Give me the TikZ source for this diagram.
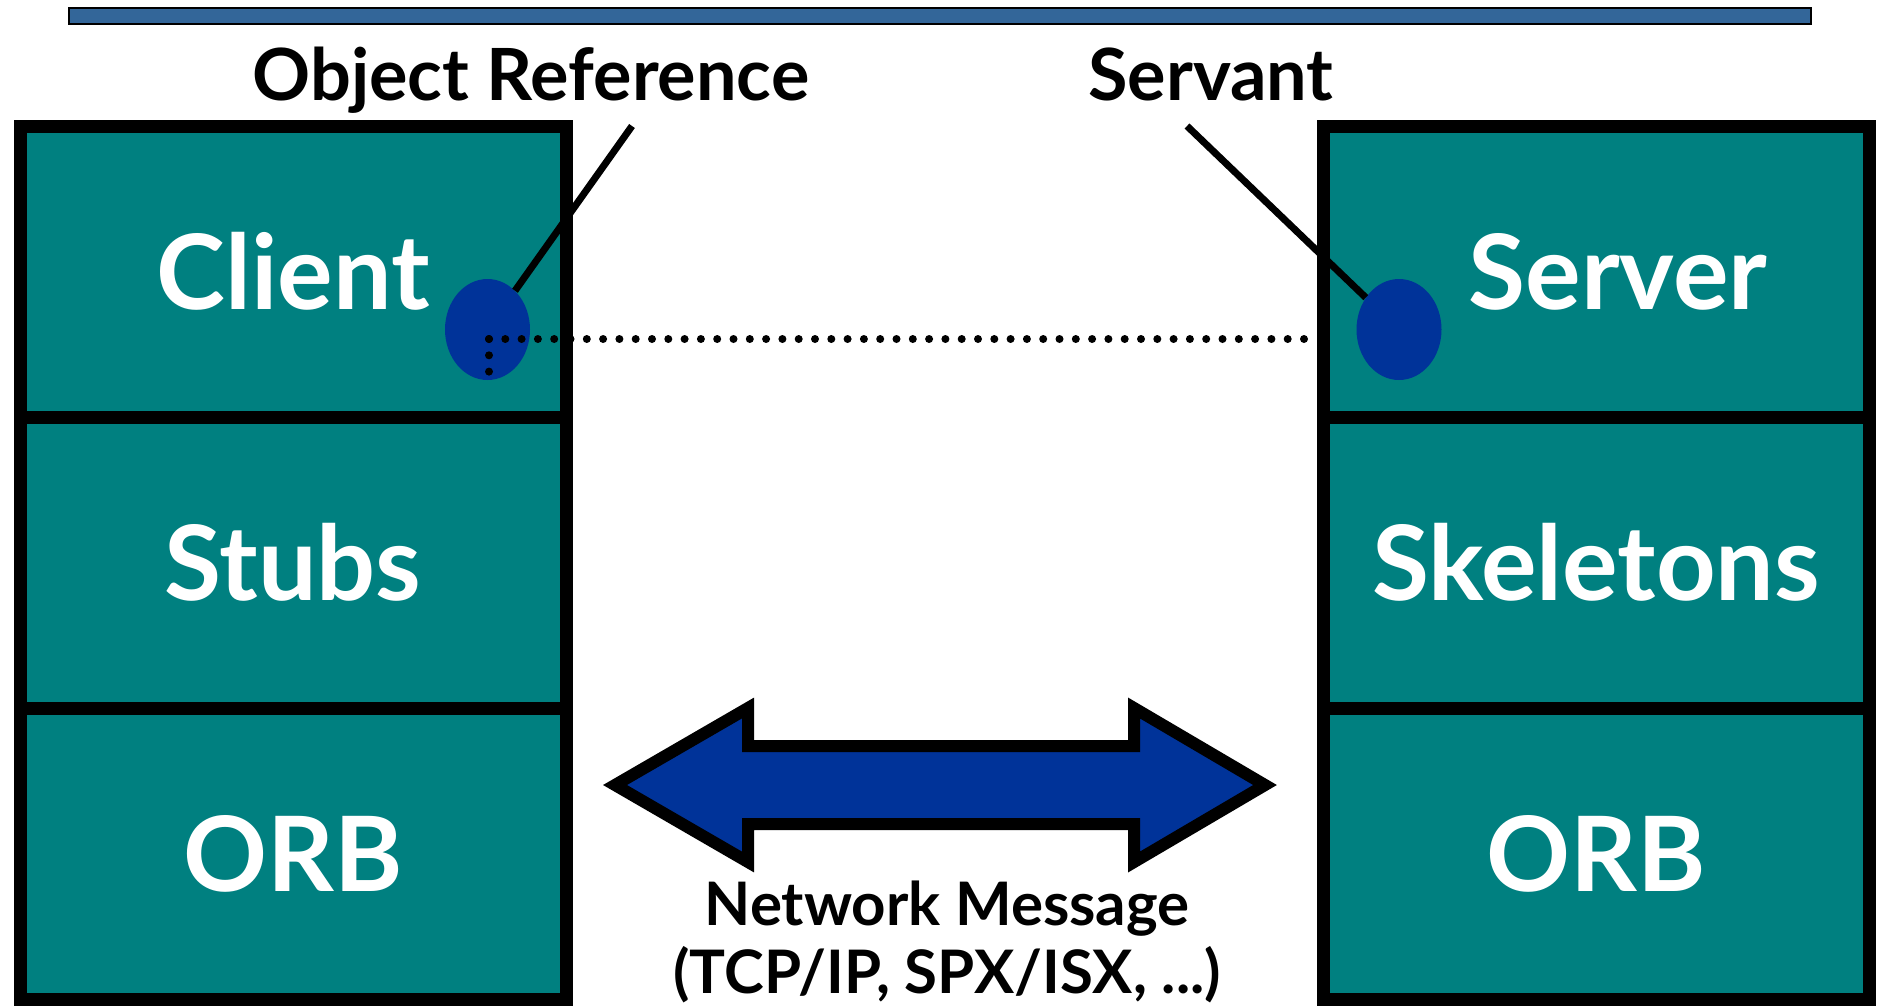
\documentclass[tikz,border=0pt]{standalone}
\usepackage{fontspec}
\setmainfont{Lato}
\usepackage{tikz}
\usetikzlibrary{shapes.geometric}
\usepackage{xcolor}
\definecolor{layerteal}{HTML}{008080}
\definecolor{refblue}{HTML}{003399}
\definecolor{barblue}{HTML}{336699}

\tikzset{
  layer/.style={draw, line width=13pt, fill=layerteal, minimum width=546pt, minimum height=291pt, inner sep=0pt, text=white, font=\bfseries\fontsize{104}{110}\selectfont},
  layertext/.style={text=white, font=\bfseries\fontsize{104}{110}\selectfont},
  refdot/.style={ellipse, fill=refblue, minimum width=85pt, minimum height=101pt, inner sep=0pt},
  callout/.style={anchor=base, font=\bfseries\fontsize{72}{80}\selectfont},
  netlabel/.style={anchor=base, font=\bfseries\fontsize{60}{68}\selectfont},
  pinline/.style={line width=7pt},
  dotline/.style={line width=8pt, line cap=round, dash pattern=on 0pt off 16.3pt},
}

\begin{document}
\begin{tikzpicture}[x=1pt, y=-1pt]
\useasboundingbox (0,0) rectangle (1881,1005);

\draw[fill=barblue, line width=2pt] (69,8) rectangle (1811,24);

\node[layer] (client) at (293,271.5) {Client};
\node[layer] (stubs) at (293,562.5) {Stubs};
\node[layer] (orbleft) at (293,853.5) {ORB};
\node[layer] (server) at (1596,271.5) {};
\node[layer] (skeletons) at (1596,562.5) {Skeletons};
\node[layer] (orbright) at (1596,853.5) {ORB};
\node[layertext] (servertext) at (1618,271.5) {Server};

\node[refdot] (objref) at (487.5,329.5) {};
\node[refdot] (servant) at (1399,329.5) {};

\node[callout] (objreflabel) at (531,100) {Object Reference};
\node[callout] (servantlabel) at (1211,100) {Servant};

\coordinate (objrefpin) at (632,126);
\coordinate (servantpin) at (1187,126);
\draw[pinline] (objrefpin) -- (objref);
\draw[pinline] (servantpin) -- (servant);

\coordinate (dotcorner) at (489,339);
\coordinate (dotdown) at (489,384);
\coordinate (dotend) at (1310,339);
\draw[dotline] (dotcorner) -- (dotdown);
\draw[dotline] (dotcorner) -- (dotend);

\draw[fill=refblue, line width=12pt, miter limit=10]
  (615,785) -- (748,708) -- (748,746) -- (1134,746) -- (1134,708) -- (1265,785)
  -- (1134,862) -- (1134,824) -- (748,824) -- (748,862) -- cycle;

\node[netlabel] (netmsg) at (947,925) {Network Message};
\node[netlabel] (netproto) at (947,993) {(TCP/IP, SPX/ISX, ...)};

\end{tikzpicture}
\end{document}
